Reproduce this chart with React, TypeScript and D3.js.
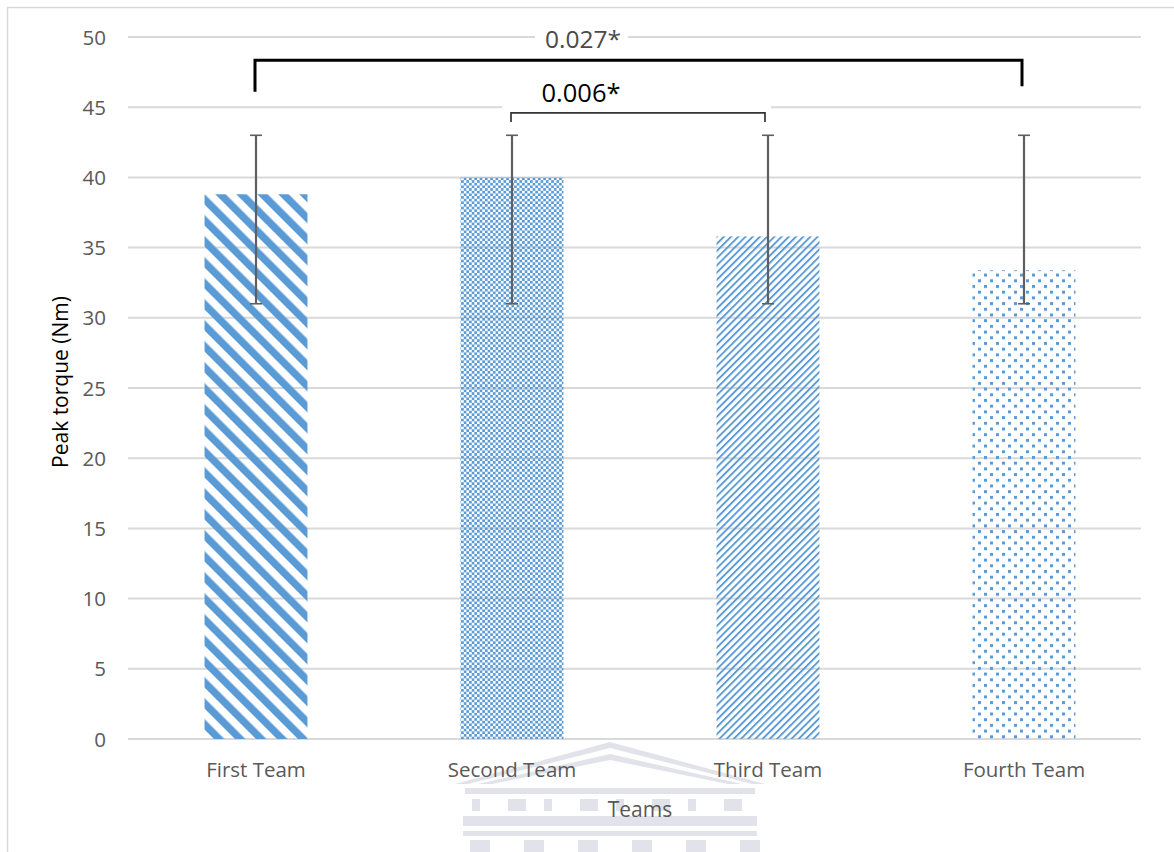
import React from "react";
import * as d3 from "d3";

const categories = ["First Team", "Second Team", "Third Team", "Fourth Team"];
const means = [38.8, 40.0, 35.8, 33.4];
const errLow = [31, 31, 31, 31];
const errHigh = [43, 43, 43, 43];
const yTicks = [0, 5, 10, 15, 20, 25, 30, 35, 40, 45, 50];
const patternIds = ["pWideDown", "pChecker", "pLightUp", "pDots"];

// significance brackets: indices of bars, bracket y (data units), leg end (data units)
const bracketFrom = [0, 1];
const bracketTo = [3, 2];
const bracketLabels = ["0.027*", "0.006*"];
const bracketY = [48.35, 44.6];
const bracketLegL = [46.1, 43.95];
const bracketLegR = [46.5, 43.95];

const W = 1174;
const H = 852;
const BLUE = "#5B9BD5";
const TEXT = "#595959";
const GRID = "#d9d9d9";
const FONT = "'Open Sans', 'Noto Sans', sans-serif";

export default function App() {
  const x = d3
    .scaleBand<string>()
    .domain(categories)
    .range([128, 1152])
    .paddingInner(0.598)
    .paddingOuter(0.299);
  const y = d3.scaleLinear().domain([0, 50]).range([739, 37]);
  const bw = x.bandwidth();
  const cx = (i: number) => (x(categories[i]) as number) + bw / 2;
  const gridX1 = 128;
  const gridX2 = 1141;
  const labelX = cx(1) + 69;

  return (
    <svg
      width={W}
      height={H}
      style={{ position: "absolute", left: 0, top: 0, background: "#fff" }}
      fontFamily={FONT}
    >
      <defs>
        <pattern id="pWideDown" patternUnits="userSpaceOnUse" width={14.85} height={14.85} patternTransform="rotate(-45)">
          <rect x={0} y={0} width={7.4} height={14.85} fill={BLUE} />
        </pattern>
        <pattern id="pChecker" patternUnits="userSpaceOnUse" width={5.3} height={5.3}>
          <rect x={0} y={0} width={2.65} height={2.65} fill={BLUE} />
          <rect x={2.65} y={2.65} width={2.65} height={2.65} fill={BLUE} />
        </pattern>
        <pattern id="pLightUp" patternUnits="userSpaceOnUse" width={5.1} height={5.1} patternTransform="rotate(45)">
          <rect x={0} y={0} width={1.9} height={5.1} fill={BLUE} />
        </pattern>
        <pattern id="pDots" patternUnits="userSpaceOnUse" width={12} height={11.4}>
          <rect x={0} y={0} width={3} height={3} fill={BLUE} />
          <rect x={6} y={5.7} width={3} height={3} fill={BLUE} />
        </pattern>
      </defs>

      <rect x={0} y={0} width={W} height={H} fill="#fff" />
      {/* chart border */}
      <rect x={7.5} y={7.5} width={W + 10} height={H + 10} fill="none" stroke={GRID} strokeWidth={1.5} />

      {/* faint watermark */}
      <g fill="#e2e3ea" stroke="none">
        <polygon points="455,784 610,742 765,784 752,784 610,748 468,784" />
        <polygon points="478,784 610,754 742,784 728,784 610,760 492,784" />
        <rect x={465} y={788} width={290} height={6} />
        {d3.range(8).map((k) => (
          <rect key={"w" + k} x={472 + k * 36} y={799} width={k % 2 === 0 ? 8 : 18} height={12} />
        ))}
        <rect x={463} y={816} width={294} height={10} />
        <rect x={463} y={831} width={294} height={5} />
        {d3.range(6).map((k) => (
          <rect key={"c" + k} x={470 + k * 54} y={840} width={20} height={12} />
        ))}
      </g>

      {/* gridlines */}
      {yTicks.map((t) => (
        <line key={"g" + t} x1={gridX1} x2={gridX2} y1={y(t)} y2={y(t)} stroke={GRID} strokeWidth={2} />
      ))}

      {/* y tick labels */}
      {yTicks.map((t) => (
        <text key={"t" + t} x={106} y={y(t) + 7.5} textAnchor="end" fontSize={20.5} fill={TEXT}>
          {t}
        </text>
      ))}

      {/* bars */}
      {categories.map((c, i) => (
        <rect
          key={c}
          x={x(c) as number}
          y={y(means[i])}
          width={bw}
          height={y(0) - y(means[i])}
          fill={`url(#${patternIds[i]})`}
        />
      ))}

      {/* error bars */}
      {categories.map((c, i) => (
        <g key={"e" + c} stroke="#5f5f5f">
          <line x1={cx(i)} x2={cx(i)} y1={y(errLow[i])} y2={y(errHigh[i])} strokeWidth={2.2} />
          <line x1={cx(i) - 6} x2={cx(i) + 6} y1={y(errLow[i])} y2={y(errLow[i])} strokeWidth={1.6} />
          <line x1={cx(i) - 6} x2={cx(i) + 6} y1={y(errHigh[i])} y2={y(errHigh[i])} strokeWidth={1.6} />
        </g>
      ))}

      {/* white boxes behind annotation text */}
      <rect x={535} y={22} width={93} height={30} fill="#fff" />
      <rect x={502} y={78} width={269} height={31} fill="#fff" />

      {/* brackets */}
      {bracketFrom.map((f, k) => {
        const x1 = cx(f) - 1;
        const x2 = cx(bracketTo[k]) - (k === 0 ? 2 : 3);
        const yb = y(bracketY[k]);
        return (
          <path
            key={"b" + k}
            d={`M${x1},${y(bracketLegL[k])} L${x1},${yb} L${x2},${yb} L${x2},${y(bracketLegR[k])}`}
            fill="none"
            stroke={k === 0 ? "#000" : "#333"}
            strokeWidth={k === 0 ? 3 : 1.7}
          />
        );
      })}

      {/* bracket labels */}
      <text x={labelX + 2} y={48} textAnchor="middle" fontSize={24.5} fill="#4a4a4a">
        {bracketLabels[0]}
      </text>
      <text x={labelX} y={102} textAnchor="middle" fontSize={25.5} fill="#000">
        {bracketLabels[1]}
      </text>

      {/* category labels */}
      {categories.map((c, i) => (
        <text key={"c" + c} x={cx(i)} y={777} textAnchor="middle" fontSize={20.5} fill={TEXT}>
          {c}
        </text>
      ))}

      {/* axis titles */}
      <text x={640} y={817} textAnchor="middle" fontSize={21} fill={TEXT}>
        Teams
      </text>
      <text
        transform={`translate(68, ${(y(0) + y(50)) / 2 - 6}) rotate(-90)`}
        textAnchor="middle"
        fontSize={21}
        fill="#000"
      >
        Peak torque (Nm)
      </text>
    </svg>
  );
}
